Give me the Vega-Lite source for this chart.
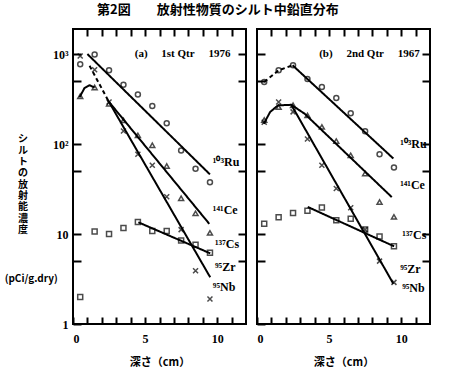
{
  "$schema": "https://vega.github.io/schema/vega-lite/v6.json",
  "padding": {"left": 3, "top": 4, "right": 5, "bottom": 2},
  "title": {"text": "第2図　　放射性物質のシルト中鉛直分布", "font": "Noto Sans CJK JP", "fontSize": 13, "fontWeight": "bold", "anchor": "middle", "offset": 10, "color": "black"},
  "datasets": {
    "pts": [
      {"p":"a","n":"Ru","d":0.5,"v":770},{"p":"a","n":"Ru","d":1.5,"v":990},{"p":"a","n":"Ru","d":2.5,"v":660},{"p":"a","n":"Ru","d":3.5,"v":455},{"p":"a","n":"Ru","d":4.5,"v":356},{"p":"a","n":"Ru","d":5.5,"v":265},{"p":"a","n":"Ru","d":6.5,"v":170},{"p":"a","n":"Ru","d":7.5,"v":85},{"p":"a","n":"Ru","d":8.5,"v":53},{"p":"a","n":"Ru","d":9.5,"v":37.6},
      {"p":"a","n":"Ce","d":0.5,"v":340},{"p":"a","n":"Ce","d":1.5,"v":425},{"p":"a","n":"Ce","d":2.5,"v":280},{"p":"a","n":"Ce","d":3.5,"v":183},{"p":"a","n":"Ce","d":4.5,"v":125},{"p":"a","n":"Ce","d":5.5,"v":97},{"p":"a","n":"Ce","d":6.5,"v":57},{"p":"a","n":"Ce","d":7.5,"v":25},{"p":"a","n":"Ce","d":8.5,"v":17},{"p":"a","n":"Ce","d":9.5,"v":10.3},
      {"p":"a","n":"Cs","d":0.5,"v":2.0},{"p":"a","n":"Cs","d":1.5,"v":10.7},{"p":"a","n":"Cs","d":2.5,"v":10},{"p":"a","n":"Cs","d":3.5,"v":11.7},{"p":"a","n":"Cs","d":4.5,"v":13.6},{"p":"a","n":"Cs","d":5.5,"v":10.8},{"p":"a","n":"Cs","d":6.5,"v":10.8},{"p":"a","n":"Cs","d":7.5,"v":8.5},{"p":"a","n":"Cs","d":8.5,"v":7.6},{"p":"a","n":"Cs","d":9.5,"v":6.2},
      {"p":"a","n":"ZrNb","d":0.5,"v":950},{"p":"a","n":"ZrNb","d":1.5,"v":670},{"p":"a","n":"ZrNb","d":2.5,"v":293},{"p":"a","n":"ZrNb","d":3.5,"v":140},{"p":"a","n":"ZrNb","d":4.5,"v":77},{"p":"a","n":"ZrNb","d":5.5,"v":58},{"p":"a","n":"ZrNb","d":6.5,"v":26},{"p":"a","n":"ZrNb","d":7.5,"v":11.2},{"p":"a","n":"ZrNb","d":8.5,"v":3.9},{"p":"a","n":"ZrNb","d":9.5,"v":1.9},
      {"p":"b","n":"Ru","d":0.5,"v":490},{"p":"b","n":"Ru","d":1.5,"v":660},{"p":"b","n":"Ru","d":2.5,"v":750},{"p":"b","n":"Ru","d":3.5,"v":530},{"p":"b","n":"Ru","d":4.5,"v":430},{"p":"b","n":"Ru","d":5.5,"v":325},{"p":"b","n":"Ru","d":6.5,"v":220},{"p":"b","n":"Ru","d":7.5,"v":139},{"p":"b","n":"Ru","d":8.5,"v":77},{"p":"b","n":"Ru","d":9.5,"v":55},
      {"p":"b","n":"Ce","d":0.5,"v":185},{"p":"b","n":"Ce","d":1.5,"v":257},{"p":"b","n":"Ce","d":2.5,"v":270},{"p":"b","n":"Ce","d":3.5,"v":208},{"p":"b","n":"Ce","d":4.5,"v":155},{"p":"b","n":"Ce","d":5.5,"v":108},{"p":"b","n":"Ce","d":6.5,"v":75},{"p":"b","n":"Ce","d":7.5,"v":47},{"p":"b","n":"Ce","d":8.5,"v":22.7},{"p":"b","n":"Ce","d":9.5,"v":15.5},
      {"p":"b","n":"Cs","d":0.5,"v":13},{"p":"b","n":"Cs","d":1.5,"v":15.4},{"p":"b","n":"Cs","d":2.5,"v":17.1},{"p":"b","n":"Cs","d":3.5,"v":18.1},{"p":"b","n":"Cs","d":4.5,"v":19.7},{"p":"b","n":"Cs","d":5.5,"v":14.2},{"p":"b","n":"Cs","d":6.5,"v":14.8},{"p":"b","n":"Cs","d":7.5,"v":11.2},{"p":"b","n":"Cs","d":8.5,"v":9.4},{"p":"b","n":"Cs","d":9.5,"v":7.3},
      {"p":"b","n":"ZrNb","d":0.5,"v":175},{"p":"b","n":"ZrNb","d":1.5,"v":293},{"p":"b","n":"ZrNb","d":2.5,"v":228},{"p":"b","n":"ZrNb","d":3.5,"v":114},{"p":"b","n":"ZrNb","d":4.5,"v":58},{"p":"b","n":"ZrNb","d":5.5,"v":32},{"p":"b","n":"ZrNb","d":6.5,"v":19.6},{"p":"b","n":"ZrNb","d":7.5,"v":11.2},{"p":"b","n":"ZrNb","d":8.5,"v":5.0},{"p":"b","n":"ZrNb","d":9.5,"v":2.9}
    ],
    "lines": [
      {"p":"a","id":"aRu","dash":"solid","d":1.0,"v":1000},{"p":"a","id":"aRu","dash":"solid","d":9.5,"v":46},
      {"p":"a","id":"aCe1","dash":"solid","d":0.45,"v":330},{"p":"a","id":"aCe1","dash":"solid","d":0.8,"v":420},{"p":"a","id":"aCe1","dash":"solid","d":1.15,"v":450},{"p":"a","id":"aCe1","dash":"solid","d":1.5,"v":425},
      {"p":"a","id":"aCe2","dash":"solid","d":2.4,"v":307},{"p":"a","id":"aCe2","dash":"solid","d":9.45,"v":13},
      {"p":"a","id":"aZr1","dash":"dashed","d":1.15,"v":740},{"p":"a","id":"aZr1","dash":"dashed","d":2.5,"v":293},
      {"p":"a","id":"aZr2","dash":"solid","d":2.5,"v":293},{"p":"a","id":"aZr2","dash":"solid","d":9.52,"v":3.3},
      {"p":"a","id":"aCs","dash":"solid","d":4.53,"v":13.5},{"p":"a","id":"aCs","dash":"solid","d":9.52,"v":6.1},
      {"p":"b","id":"bRu1","dash":"dashed","d":0.5,"v":490},{"p":"b","id":"bRu1","dash":"dashed","d":1.5,"v":660},{"p":"b","id":"bRu1","dash":"dashed","d":2.47,"v":750},
      {"p":"b","id":"bRu2","dash":"solid","d":2.47,"v":750},{"p":"b","id":"bRu2","dash":"solid","d":9.46,"v":69},
      {"p":"b","id":"bCe","dash":"solid","d":0.47,"v":168},{"p":"b","id":"bCe","dash":"solid","d":0.91,"v":227},{"p":"b","id":"bCe","dash":"solid","d":1.45,"v":269},{"p":"b","id":"bCe","dash":"solid","d":2.38,"v":273},{"p":"b","id":"bCe","dash":"solid","d":3.31,"v":217},{"p":"b","id":"bCe","dash":"solid","d":9.35,"v":25.7},
      {"p":"b","id":"bZr","dash":"solid","d":2.38,"v":273},{"p":"b","id":"bZr","dash":"solid","d":9.46,"v":2.8},
      {"p":"b","id":"bCs","dash":"solid","d":3.52,"v":20},{"p":"b","id":"bCs","dash":"solid","d":9.51,"v":7.3}
    ],
    "labels": [
      {"p":"a","t":"¹⁰³Ru","d":9.7,"v":63},{"p":"a","t":"¹⁴¹Ce","d":9.7,"v":18.5},{"p":"a","t":"¹³⁷Cs","d":9.85,"v":7.7},{"p":"a","t":"⁹⁵Zr","d":9.85,"v":4.3},{"p":"a","t":"⁹⁵Nb","d":9.7,"v":2.6},
      {"p":"b","t":"¹⁰³Ru","d":9.93,"v":100},{"p":"b","t":"¹⁴¹Ce","d":9.93,"v":35},{"p":"b","t":"¹³⁷Cs","d":10.07,"v":9.7},{"p":"b","t":"⁹⁵Zr","d":9.93,"v":4.1},{"p":"b","t":"⁹⁵Nb","d":10.07,"v":2.5}
    ],
    "heads": [
      {"p":"a","t":"(a)\u2003 1st Qtr\u2003 1976","d":7.6,"v":1000},
      {"p":"b","t":"(b)\u2003 2nd Qtr\u2003 1967","d":7.8,"v":1000}
    ],
    "ytitle": [
      {"t":["シ","ル","ト","の","放","射","能","濃","度"],"d":-3.47,"v":129},
      {"t":"(pCi/g.dry)","d":-2.9,"v":3.6}
    ]
  },
  "hconcat": [
    {
      "width": 173, "height": 295,
      "layer": [
        {
          "data": {"name": "lines"},
          "transform": [{"filter": "datum.p == 'a'"}],
          "mark": {"type": "line", "color": "black", "strokeWidth": 2},
          "encoding": {
            "x": {"field": "d", "type": "quantitative", "scale": {"domain": [0, 12], "nice": false},
                  "axis": {"orient": "bottom", "values": [0,5,10], "domain": false, "offset": -7, "tickSize": 7, "tickColor": "black", "zindex": 1, "labelPadding": 9, "title": "深さ（cm）", "titleFont": "Noto Sans CJK JP", "titleFontSize": 11, "titleFontWeight": "bold", "titlePadding": 12}},
            "y": {"field": "v", "type": "quantitative", "scale": {"type": "log", "domain": [1, 1900], "nice": false},
                  "axis": {"orient": "left", "values": [1,10,100,1000], "labelExpr": "datum.value == 1000 ? '10³' : datum.value == 100 ? '10²' : datum.label", "domain": false, "offset": -8, "tickSize": 8, "tickColor": "black", "zindex": 1, "labelPadding": 5, "title": null}},
            "detail": {"field": "id"},
            "strokeDash": {"field": "dash", "type": "nominal", "scale": {"domain": ["solid","dashed"], "range": [[1,0],[4,3]]}, "legend": null}
          }
        },
        {
          "data": {"name": "pts"},
          "transform": [{"filter": "datum.p == 'a'"}],
          "mark": {"type": "point", "filled": false, "color": "black", "strokeWidth": 1.5, "size": 25},
          "encoding": {
            "x": {"field": "d", "type": "quantitative", "scale": {"domain": [0, 12], "nice": false},
                  "axis": {"orient": "top", "values": [1,2,3,4,5,6,7,8,9,10,11], "labels": false, "domain": false, "offset": -7, "tickSize": 7, "tickColor": "black", "zindex": 1, "title": null}},
            "y": {"field": "v", "type": "quantitative", "scale": {"type": "log", "domain": [1, 1900], "nice": false},
                  "axis": {"orient": "right", "values": [5,10,50,100,500,1000], "labels": false, "domain": false, "offset": -8, "tickSize": 8, "tickColor": "black", "zindex": 1, "title": null}},
            "shape": {"field": "n", "type": "nominal", "scale": {"domain": ["Ru","Ce","Cs","ZrNb"], "range": ["circle","triangle-up","square","M-1,-1L1,1M-1,1L1,-1"]}, "legend": null}
          }
        },
        {
          "data": {"name": "labels"},
          "transform": [{"filter": "datum.p == 'a'"}],
          "mark": {"type": "text", "align": "left", "baseline": "middle", "font": "Liberation Serif", "fontWeight": "bold", "fontSize": 12, "color": "black"},
          "encoding": {
            "x": {"field": "d", "type": "quantitative", "scale": {"domain": [0, 12], "nice": false},
                  "axis": {"orient": "bottom", "values": [1,2,3,4,6,7,8,9,11], "labels": false, "domain": false, "offset": -7, "tickSize": 7, "tickColor": "black", "zindex": 1, "title": null}},
            "y": {"field": "v", "type": "quantitative", "scale": {"type": "log", "domain": [1, 1900], "nice": false},
                  "axis": {"orient": "left", "values": [5,50,500], "labels": false, "domain": false, "offset": -8, "tickSize": 8, "tickColor": "black", "zindex": 1, "title": null}},
            "text": {"field": "t"}
          }
        },
        {
          "data": {"name": "heads"},
          "transform": [{"filter": "datum.p == 'a'"}],
          "mark": {"type": "text", "align": "center", "baseline": "middle", "font": "Liberation Serif", "fontWeight": "bold", "fontSize": 11, "color": "black"},
          "encoding": {
            "x": {"field": "d", "type": "quantitative", "scale": {"domain": [0, 12], "nice": false}, "axis": null},
            "y": {"field": "v", "type": "quantitative", "scale": {"type": "log", "domain": [1, 1900], "nice": false}, "axis": null},
            "text": {"field": "t"}
          }
        },
        {
          "data": {"name": "ytitle"},
          "mark": {"type": "text", "align": "center", "baseline": "top", "font": "Noto Sans CJK JP", "fontWeight": "bold", "fontSize": 10, "lineHeight": 11.4, "color": "black"},
          "encoding": {
            "x": {"field": "d", "type": "quantitative", "scale": {"domain": [0, 12], "nice": false}, "axis": null},
            "y": {"field": "v", "type": "quantitative", "scale": {"type": "log", "domain": [1, 1900], "nice": false}, "axis": null},
            "text": {"field": "t"}
          }
        }
      ],
      "resolve": {"axis": {"x": "independent", "y": "independent"}}
    },
    {
      "width": 173, "height": 295,
      "layer": [
        {
          "data": {"name": "lines"},
          "transform": [{"filter": "datum.p == 'b'"}],
          "mark": {"type": "line", "color": "black", "strokeWidth": 2},
          "encoding": {
            "x": {"field": "d", "type": "quantitative", "scale": {"domain": [0, 12], "nice": false},
                  "axis": {"orient": "bottom", "values": [0,5,10], "domain": false, "offset": -7, "tickSize": 7, "tickColor": "black", "zindex": 1, "labelPadding": 9, "title": "深さ（cm）", "titleFont": "Noto Sans CJK JP", "titleFontSize": 11, "titleFontWeight": "bold", "titlePadding": 12}},
            "y": {"field": "v", "type": "quantitative", "scale": {"type": "log", "domain": [1, 1900], "nice": false},
                  "axis": {"orient": "left", "values": [1,10,100,1000], "labels": false, "domain": false, "offset": -8, "tickSize": 8, "tickColor": "black", "zindex": 1, "title": null}},
            "detail": {"field": "id"},
            "strokeDash": {"field": "dash", "type": "nominal", "scale": {"domain": ["solid","dashed"], "range": [[1,0],[4,3]]}, "legend": null}
          }
        },
        {
          "data": {"name": "pts"},
          "transform": [{"filter": "datum.p == 'b'"}],
          "mark": {"type": "point", "filled": false, "color": "black", "strokeWidth": 1.5, "size": 25},
          "encoding": {
            "x": {"field": "d", "type": "quantitative", "scale": {"domain": [0, 12], "nice": false},
                  "axis": {"orient": "top", "values": [1,2,3,4,5,6,7,8,9,10,11], "labels": false, "domain": false, "offset": -7, "tickSize": 7, "tickColor": "black", "zindex": 1, "title": null}},
            "y": {"field": "v", "type": "quantitative", "scale": {"type": "log", "domain": [1, 1900], "nice": false},
                  "axis": {"orient": "right", "values": [5,10,50,100,500,1000], "labels": false, "domain": false, "offset": -8, "tickSize": 8, "tickColor": "black", "zindex": 1, "title": null}},
            "shape": {"field": "n", "type": "nominal", "scale": {"domain": ["Ru","Ce","Cs","ZrNb"], "range": ["circle","triangle-up","square","M-1,-1L1,1M-1,1L1,-1"]}, "legend": null}
          }
        },
        {
          "data": {"name": "labels"},
          "transform": [{"filter": "datum.p == 'b'"}],
          "mark": {"type": "text", "align": "left", "baseline": "middle", "font": "Liberation Serif", "fontWeight": "bold", "fontSize": 12, "color": "black"},
          "encoding": {
            "x": {"field": "d", "type": "quantitative", "scale": {"domain": [0, 12], "nice": false},
                  "axis": {"orient": "bottom", "values": [1,2,3,4,6,7,8,9,11], "labels": false, "domain": false, "offset": -7, "tickSize": 7, "tickColor": "black", "zindex": 1, "title": null}},
            "y": {"field": "v", "type": "quantitative", "scale": {"type": "log", "domain": [1, 1900], "nice": false},
                  "axis": {"orient": "left", "values": [5,50,500], "labels": false, "domain": false, "offset": -8, "tickSize": 8, "tickColor": "black", "zindex": 1, "title": null}},
            "text": {"field": "t"}
          }
        },
        {
          "data": {"name": "heads"},
          "transform": [{"filter": "datum.p == 'b'"}],
          "mark": {"type": "text", "align": "center", "baseline": "middle", "font": "Liberation Serif", "fontWeight": "bold", "fontSize": 11, "color": "black"},
          "encoding": {
            "x": {"field": "d", "type": "quantitative", "scale": {"domain": [0, 12], "nice": false}, "axis": null},
            "y": {"field": "v", "type": "quantitative", "scale": {"type": "log", "domain": [1, 1900], "nice": false}, "axis": null},
            "text": {"field": "t"}
          }
        }
      ],
      "resolve": {"axis": {"x": "independent", "y": "independent"}}
    }
  ],
  "config": {
    "view": {"stroke": "black", "strokeWidth": 2},
    "concat": {"spacing": 7},
    "axis": {"domainColor": "black", "domainWidth": 2, "tickWidth": 2, "grid": false, "labelFont": "Liberation Serif", "labelFontWeight": "bold", "labelFontSize": 12}
  }
}
